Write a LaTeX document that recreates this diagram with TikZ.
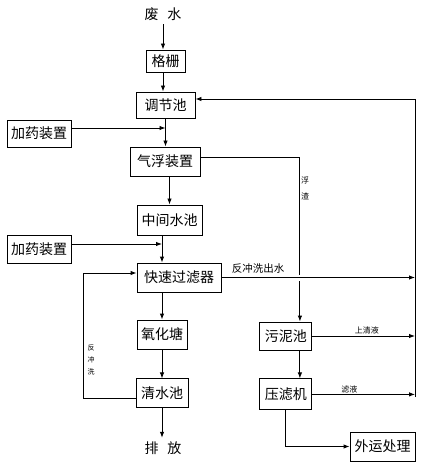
\documentclass[tikz,border=0pt]{standalone}
\usepackage{fontspec}
\setmainfont{Noto Sans CJK SC}
\usetikzlibrary{positioning,arrows.meta}

\begin{document}
\begin{tikzpicture}[x=1bp, y=-1bp, >={Latex[length=6bp,width=4.5bp]}, line width=0.9bp,
    every node/.style={align=center, font=\fontsize{14bp}{16bp}\selectfont},
    box/.style={draw, inner sep=0pt},
    tag/.style={font=\fontsize{8bp}{9bp}\selectfont, inner sep=1bp}]
    \useasboundingbox (0,0) rectangle (421,466);

    % main treatment line
    \node (inflow) at (163,14) {废\hspace{9bp}水};
    \node[box, minimum width=39bp, minimum height=22bp] (grate) at (165.5,61) {格栅};
    \node[box, minimum width=59bp, minimum height=26bp] (equal) at (165.5,105) {调节池};
    \node[box, minimum width=64bp, minimum height=27bp] (dose1) at (39,133.5) {加药装置};
    \node[box, minimum width=70bp, minimum height=29bp] (flot) at (165,161.5) {气浮装置};
    \node[box, minimum width=65bp, minimum height=30bp] (midtank) at (169.5,220) {中间水池};
    \node[box, minimum width=64bp, minimum height=28bp] (dose2) at (39,249) {加药装置};
    \node[box, minimum width=84bp, minimum height=29bp] (filter) at (179,277.5) {快速过滤器};
    \node[box, minimum width=50bp, minimum height=29bp] (pond) at (162,334.5) {氧化塘};
    \node[box, minimum width=52bp, minimum height=29bp, below=29bp of pond] (clear) {清水池};
    \node (outflow) at (163,448) {排\hspace{9bp}放};

    % sludge line
    \node[box, minimum width=52bp, minimum height=28bp, right=72bp of pond, yshift=-1.5bp] (sludge) {污泥池};
    \node[box, minimum width=52bp, minimum height=31bp, below=28bp of sludge] (press) {压滤机};
    \node[box, minimum width=65bp, minimum height=29bp] (haul) at (382.5,446.5) {外运处理};
    \coordinate (retbot) at (415,397);

    \draw[->] (inflow) -- (inflow |- grate.north);
    \draw[->] (grate.south -| inflow) -- (equal.north -| inflow);
    \draw[->] (equal.south) -- (equal.south |- flot.north);
    \draw[->] ([yshift=5.5bp]dose1.east) -- ([yshift=5.5bp]dose1.east -| equal.south);
    \draw[->] (flot.south -| midtank) -- (midtank.north);
    \draw[->] (midtank.south -| pond) -- (filter.north -| pond);
    \draw[->] ([yshift=5bp]dose2.east) -- ([yshift=5bp]dose2.east -| pond);
    \draw[->] (filter.south -| pond) -- (pond);
    \draw[->] (pond) -- (clear);
    \draw[->] (clear) -- (clear.south |- outflow.north);

    % backwash loop
    \draw[->] ([yshift=-5.5bp]clear.west) -- ++(-52,0) |- ([yshift=4.5bp]filter.west);
    \node[tag, font=\fontsize{7bp}{12bp}\selectfont] (lbwash) at (91,360) {反\\冲\\洗};

    % scum to sludge tank
    \draw[->] ([yshift=4.5bp]flot.east) -| ([xshift=14bp]sludge.north);
    \node[tag, font=\fontsize{8bp}{16bp}\selectfont] (lbscum) at (305,188) {浮\\渣};

    % returns to equalisation tank
    \draw[->, preaction={draw=white, line width=6bp, -, shorten <=70bp, shorten >=106bp}]
        (filter.east) -- (filter.east -| retbot) node[pos=0.19, above, font=\fontsize{10.5bp}{12bp}\selectfont] (lbout) {反冲洗出水};
    \draw[->] (sludge.east) -- (sludge.east -| retbot) node[pos=0.53, above, tag] (lbtop) {上清液};
    \draw[->] (press.east) -- (press.east -| retbot) node[pos=0.36, above, tag] (lbfilt) {滤液};
    \draw[->] (retbot) |- ([yshift=6bp]equal.east);

    \draw[->] ([xshift=14bp]sludge.south) -- ([xshift=14bp]press.north);
    \draw[->] (press.south) |- (haul.west);
\end{tikzpicture}
\end{document}
